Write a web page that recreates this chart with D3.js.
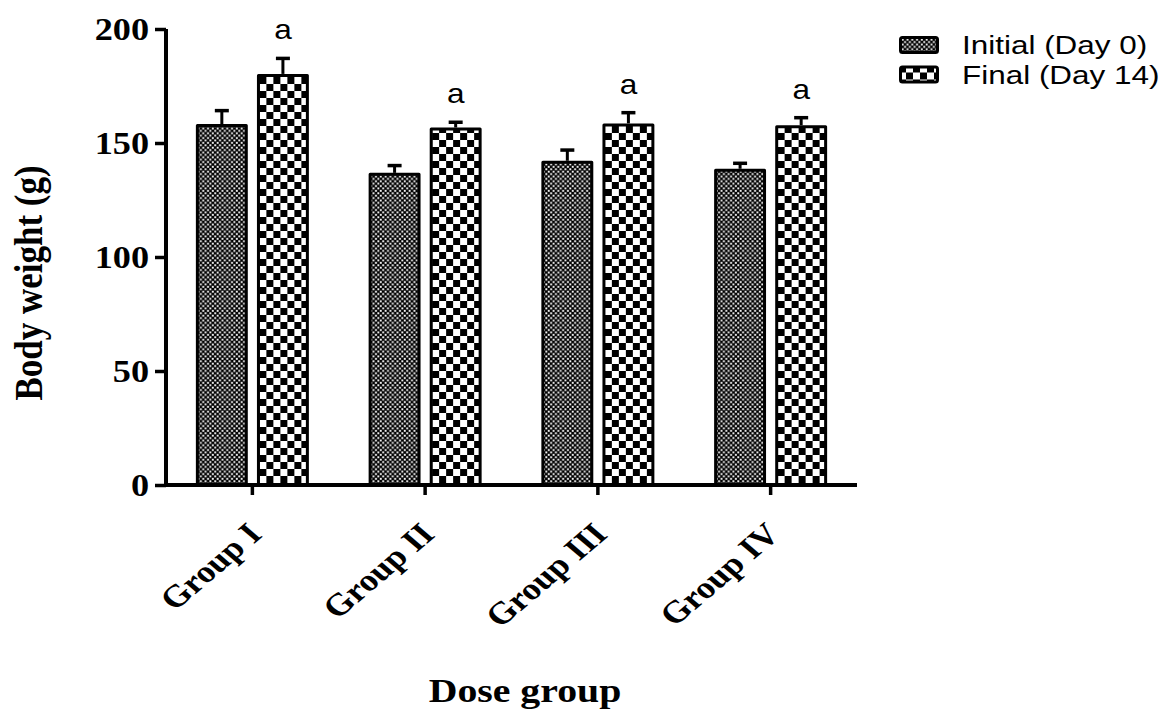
<!DOCTYPE html>
<html>
<head>
<meta charset="utf-8">
<script src="https://cdn.jsdelivr.net/npm/d3@7"></script>
<style>
  html, body { margin: 0; padding: 0; background: #fff; }
  svg { display: block; }
</style>
</head>
<body>
<svg id="chart" width="1162" height="719"></svg>
<script>
// Body weight per dose group, before and after the 14-day period (mean ± SEM)
const groups = ["Group I", "Group II", "Group III", "Group IV"];
const seriesNames = ["Initial (Day 0)", "Final (Day 14)"];
const initialWeight = [158.3, 136.9, 142.2, 138.7];
const initialSem = [5.9, 3.2, 4.7, 2.4];
const finalWeight = [180.3, 156.8, 158.6, 157.8];
const finalSem = [6.8, 2.3, 4.7, 3.3];
const finalMarks = ["a", "a", "a", "a"];
const yTicks = [0, 50, 100, 150, 200];

const svg = d3.select("#chart");
const sx = 1.17; // horizontal text aspect used for all labels
const serif = "'Times New Roman', 'Liberation Serif', serif";
const sans = "Arial, 'Liberation Sans', sans-serif";

const plotLeft = 166, plotRight = 857, plotTop = 29, plotBottom = 485;

const x = d3.scaleBand().domain(groups).range([plotLeft, plotRight]).padding(0);
const inner = d3.scaleBand().domain(["initial", "final"]).range([-56.5, 56.5]).paddingInner(0.15);
const y = d3.scaleLinear().domain([0, 200]).range([plotBottom, plotTop]);

// Fill patterns: dense dotted checker for Day 0, coarse checker for Day 14
const defs = svg.append("defs");
const fine = defs.append("pattern")
  .attr("id", "fine").attr("patternUnits", "userSpaceOnUse")
  .attr("width", 4.8).attr("height", 4.8);
fine.append("rect").attr("width", 4.8).attr("height", 4.8).attr("fill", "#000");
fine.append("rect").attr("x", 0.3).attr("y", 0.3).attr("width", 1.9).attr("height", 1.9).attr("fill", "#fff");
fine.append("rect").attr("x", 2.7).attr("y", 2.7).attr("width", 1.9).attr("height", 1.9).attr("fill", "#fff");

const coarse = defs.append("pattern")
  .attr("id", "coarse").attr("patternUnits", "userSpaceOnUse")
  .attr("width", 14).attr("height", 14);
coarse.append("rect").attr("width", 14).attr("height", 14).attr("fill", "#fff");
coarse.append("rect").attr("width", 7).attr("height", 7).attr("fill", "#000");
coarse.append("rect").attr("x", 7).attr("y", 7).attr("width", 7).attr("height", 7).attr("fill", "#000");

const rows = groups.map((g, i) => ({
  group: g,
  bars: [
    { key: "initial", value: initialWeight[i], sem: initialSem[i], fill: "url(#fine)", mark: "" },
    { key: "final", value: finalWeight[i], sem: finalSem[i], fill: "url(#coarse)", mark: finalMarks[i] }
  ]
}));

const sw = 3;
const gGroup = svg.append("g").selectAll("g").data(rows).join("g")
  .attr("transform", d => `translate(${x(d.group) + x.bandwidth() / 2},0)`);

const bar = gGroup.selectAll("g.bar").data(d => d.bars).join("g").attr("class", "bar");
const cx = d => inner(d.key) + inner.bandwidth() / 2;

// error bars (upper only)
bar.append("line")
  .attr("x1", cx).attr("x2", cx)
  .attr("y1", d => y(d.value))
  .attr("y2", d => y(d.value + d.sem))
  .attr("stroke", "#000").attr("stroke-width", 3);
bar.append("line")
  .attr("x1", d => cx(d) - 7).attr("x2", d => cx(d) + 7)
  .attr("y1", d => y(d.value + d.sem))
  .attr("y2", d => y(d.value + d.sem))
  .attr("stroke", "#000").attr("stroke-width", 3.5);

bar.append("rect")
  .attr("x", d => inner(d.key) + sw / 2)
  .attr("width", inner.bandwidth() - sw)
  .attr("y", d => y(d.value) + sw / 2)
  .attr("height", d => y(0) - y(d.value) - sw / 2)
  .attr("fill", d => d.fill)
  .attr("stroke", "#000").attr("stroke-width", sw)
  .attr("stroke-linejoin", "round");

// significance letters above Day 14 bars
bar.filter(d => d.mark).append("text")
  .attr("transform", d => `translate(${cx(d)},${y(d.value + d.sem) - 19}) scale(${sx},1)`)
  .attr("text-anchor", "middle")
  .attr("font-family", sans)
  .attr("font-size", 27)
  .text(d => d.mark);

// Y axis
const yAxis = svg.append("g").attr("transform", `translate(${plotLeft},0)`)
  .call(d3.axisLeft(y).tickValues(yTicks).tickSize(11).tickPadding(6).tickFormat(d3.format("d")));
yAxis.select(".domain").attr("stroke-width", 4).attr("d", `M0,${plotTop}V${plotBottom + 2}`);
yAxis.selectAll(".tick line").attr("stroke-width", 3.5);
yAxis.selectAll(".tick text")
  .attr("font-family", serif)
  .attr("font-weight", "bold").attr("font-size", 31)
  .attr("fill", "#000")
  .attr("dy", "0.34em")
  .each(function () {
    const t = d3.select(this);
    t.attr("x", +t.attr("x") / sx).attr("transform", `scale(${sx},1)`);
  });

// X axis
const xAxis = svg.append("g").attr("transform", `translate(0,${plotBottom})`)
  .call(d3.axisBottom(x).tickSize(10).tickSizeOuter(0).tickFormat(""));
xAxis.select(".domain").attr("stroke-width", 4).attr("d", `M${plotLeft - 2},0H${plotRight}`);
xAxis.selectAll(".tick line").attr("stroke-width", 3.5);

// rotated group labels
svg.append("g").selectAll("text").data(groups).join("text")
  .attr("transform", d => `translate(${x(d) + x.bandwidth() / 2 + 11},${plotBottom + 51}) scale(${sx},1) rotate(-45)`)
  .attr("text-anchor", "end")
  .attr("font-family", serif)
  .attr("font-weight", "bold").attr("font-size", 31)
  .text(d => d);

// axis titles
svg.append("text")
  .attr("transform", `translate(42,${(plotTop + plotBottom) / 2 + 26}) scale(${sx},1) rotate(-90)`)
  .attr("text-anchor", "middle")
  .attr("font-family", serif)
  .attr("font-weight", "bold").attr("font-size", 35)
  .text("Body weight (g)");

svg.append("text")
  .attr("transform", `translate(525,702) scale(${sx},1)`)
  .attr("text-anchor", "middle")
  .attr("font-family", serif)
  .attr("font-weight", "bold").attr("font-size", 34)
  .text("Dose group");

// legend
const legendFills = ["url(#fine)", "url(#coarse)"];
const legend = svg.append("g").selectAll("g").data(seriesNames).join("g")
  .attr("transform", (d, i) => `translate(899,${36 + i * 29.5})`);
legend.append("rect")
  .attr("x", 1.5).attr("y", 1.5).attr("width", 37).attr("height", 15)
  .attr("rx", 2)
  .attr("fill", (d, i) => legendFills[i])
  .attr("stroke", "#000").attr("stroke-width", 3);
legend.append("text")
  .attr("transform", `translate(63,18) scale(1.21,1)`)
  .attr("font-family", sans)
  .attr("font-size", 26)
  .text(d => d);
</script>
</body>
</html>
